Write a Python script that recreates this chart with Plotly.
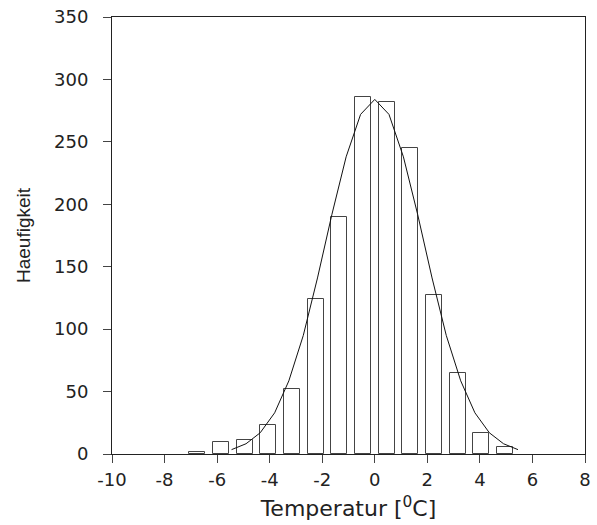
import plotly.graph_objects as go

# Histogram bins (centers, °C) and counts
bin_centers = [-6.75, -5.85, -4.95, -4.05, -3.15, -2.25, -1.35, -0.45,
               0.45, 1.35, 2.25, 3.15, 4.05, 4.95]
counts = [2, 10, 11, 23, 52, 124, 190, 286, 282, 245, 127, 65, 17, 6]

# Fitted curve
curve_x = [-5.45, -4.9, -4.36, -3.81, -3.27, -2.72, -2.18, -1.63, -1.09, -0.54, 0.0,
           0.54, 1.09, 1.63, 2.18, 2.72, 3.27, 3.81, 4.36, 4.9, 5.45]
curve_y = [3.5, 8.2, 17, 33, 58.6, 95, 141, 192, 238, 272, 284,
           272, 238, 192, 141, 95, 58.6, 33, 17, 8.2, 3.5]

x_ticks = [-10, -8, -6, -4, -2, 0, 2, 4, 6, 8]
y_ticks = [0, 50, 100, 150, 200, 250, 300, 350]

tick_font = dict(family="DejaVu Sans", size=18, color="#222222")

fig = go.Figure()
fig.add_trace(go.Bar(
    x=bin_centers, y=counts, width=0.61,
    marker=dict(color="white", line=dict(color="#444444", width=1)),
    showlegend=False,
))
fig.add_trace(go.Scatter(
    x=curve_x, y=curve_y, mode="lines",
    line=dict(color="#111111", width=1), showlegend=False,
))

fig.update_layout(
    width=597, height=525,
    margin=dict(l=112, r=6, t=15, b=71),
    plot_bgcolor="white", paper_bgcolor="white",
    bargap=0,
)
fig.update_xaxes(
    range=[-10, 8], tickvals=x_ticks, ticktext=[str(v) for v in x_ticks],
    showgrid=False, zeroline=False,
    showline=True, linecolor="#222222", linewidth=1, mirror=True,
    ticks="outside", ticklen=8, tickcolor="#444444", tickwidth=1,
    tickfont=tick_font, ticklabelstandoff=1,
    title=dict(text="Temperatur [<sup>0</sup>C]",
               font=dict(family="DejaVu Sans", size=22, color="#222222"),
               standoff=12),
)
fig.update_yaxes(
    range=[0, 350], tickvals=y_ticks, ticktext=[str(v) for v in y_ticks],
    showgrid=False, zeroline=False,
    showline=True, linecolor="#222222", linewidth=1, mirror=True,
    ticks="outside", ticklen=8, tickcolor="#444444", tickwidth=1,
    tickfont=tick_font, ticklabelstandoff=11,
    title=dict(text="Haeufigkeit",
               font=dict(family="Liberation Sans", size=19, color="#222222"),
               standoff=18),
)

fig.write_html("out.html")
